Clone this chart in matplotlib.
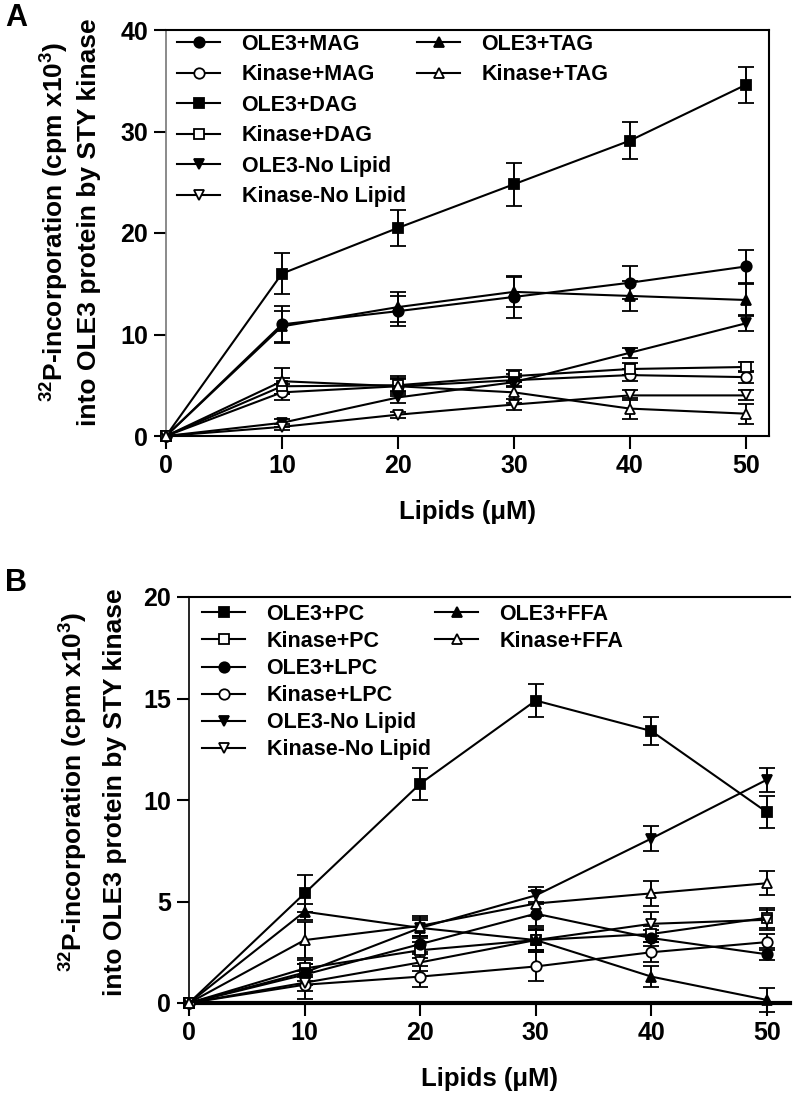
import matplotlib
matplotlib.use('Agg')
import matplotlib.pyplot as plt
from matplotlib.lines import Line2D

plt.rcParams['font.family'] = ['Liberation Sans', 'DejaVu Sans']
plt.rcParams['font.weight'] = 'bold'
plt.rcParams['mathtext.fontset'] = 'custom'
plt.rcParams['mathtext.rm'] = 'Liberation Sans:bold'
plt.rcParams['mathtext.default'] = 'rm'

W, H = 797, 1100

lipid_conc = [0, 10, 20, 30, 40, 50]

# ---------------- Panel A data ----------------
a_labels = ["OLE3+MAG", "Kinase+MAG", "OLE3+DAG", "Kinase+DAG",
            "OLE3-No Lipid", "Kinase-No Lipid", "OLE3+TAG", "Kinase+TAG"]
a_ole3_mag = [0, 11.0, 12.3, 13.7, 15.1, 16.7]
a_kin_mag = [0, 4.3, 4.9, 5.5, 6.0, 5.8]
a_ole3_dag = [0, 16.0, 20.5, 24.8, 29.1, 34.6]
a_kin_dag = [0, 4.9, 5.0, 5.9, 6.6, 6.8]
a_ole3_nolip = [0, 1.3, 3.8, 5.3, 8.2, 11.1]
a_kin_nolip = [0, 0.9, 2.1, 3.1, 4.0, 4.0]
a_ole3_tag = [0, 10.8, 12.7, 14.2, 13.8, 13.4]
a_kin_tag = [0, 5.4, 4.9, 4.3, 2.7, 2.2]

a_err_ole3_mag = [0, 1.8, 1.5, 2.1, 1.6, 1.6]
a_err_kin_mag = [0, 0.8, 0.8, 0.6, 0.6, 0.6]
a_err_ole3_dag = [0, 2.0, 1.8, 2.1, 1.8, 1.8]
a_err_kin_dag = [0, 0.8, 0.6, 0.6, 0.6, 0.5]
a_err_ole3_nolip = [0, 0.4, 0.5, 0.5, 0.5, 0.8]
a_err_kin_nolip = [0, 0.3, 0.3, 0.5, 0.5, 0.5]
a_err_ole3_tag = [0, 1.5, 1.5, 1.5, 1.5, 1.6]
a_err_kin_tag = [0, 1.3, 1.0, 1.0, 1.0, 1.0]

# ---------------- Panel B data ----------------
b_labels = ["OLE3+PC", "Kinase+PC", "OLE3+LPC", "Kinase+LPC",
            "OLE3-No Lipid", "Kinase-No Lipid", "OLE3+FFA", "Kinase+FFA"]
b_ole3_pc = [0, 5.4, 10.8, 14.9, 13.4, 9.4]
b_kin_pc = [0, 1.7, 2.6, 3.1, 3.4, 4.2]
b_ole3_lpc = [0, 1.4, 2.9, 4.4, 3.2, 2.4]
b_kin_lpc = [0, 0.9, 1.3, 1.8, 2.5, 3.0]
b_ole3_nolip = [0, 1.5, 3.7, 5.3, 8.1, 11.0]
b_kin_nolip = [0, 1.0, 2.0, 3.1, 3.9, 4.1]
b_ole3_ffa = [0, 4.5, 3.7, 3.1, 1.3, 0.15]
b_kin_ffa = [0, 3.1, 3.8, 4.9, 5.4, 5.9]

b_err_ole3_pc = [0, 0.9, 0.8, 0.8, 0.7, 0.8]
b_err_kin_pc = [0, 0.4, 0.4, 0.6, 0.4, 0.5]
b_err_ole3_lpc = [0, 0.5, 0.4, 0.6, 0.4, 0.3]
b_err_kin_lpc = [0, 0.7, 0.5, 0.7, 0.5, 0.4]
b_err_ole3_nolip = [0, 0.4, 0.5, 0.4, 0.6, 0.6]
b_err_kin_nolip = [0, 0.4, 0.4, 0.5, 0.6, 0.5]
b_err_ole3_ffa = [0, 0.4, 0.4, 0.5, 0.5, 0.6]
b_err_kin_ffa = [0, 0.9, 0.5, 0.6, 0.6, 0.6]

# marker styles (marker, filled)
styles = [('o', True), ('o', False), ('s', True), ('s', False),
          ('v', True), ('v', False), ('^', True), ('^', False)]
b_styles = [('s', True), ('s', False), ('o', True), ('o', False),
            ('v', True), ('v', False), ('^', True), ('^', False)]

fig = plt.figure(figsize=(W / 100, H / 100), dpi=100)


def px_axes(l, r, t, b):
    return fig.add_axes([l / W, 1 - b / H, (r - l) / W, (b - t) / H])


def draw_series(ax, ys, errs, stys):
    for y, e, (m, filled) in zip(ys, errs, stys):
        ax.errorbar(lipid_conc, y, yerr=e, color='black', lw=1.5,
                    marker=m, ms=7.5, mfc='black' if filled else 'white',
                    mec='black', mew=1.3, ecolor='black', elinewidth=1.4,
                    capsize=6, capthick=1.4, clip_on=False, zorder=3)


def make_handle(m, filled):
    return Line2D([0], [0], color='black', lw=1.5, marker=m, ms=7.5,
                  mfc='black' if filled else 'white', mec='black', mew=1.3)


def add_legend(handles, labels, x_px, y_px, spacing):
    leg = fig.legend(handles, labels, loc='upper left',
                     bbox_to_anchor=(x_px / W, 1 - y_px / H),
                     bbox_transform=fig.transFigure, frameon=False,
                     prop={'size': 15.5, 'weight': 'bold'}, handlelength=2.0,
                     handletextpad=1.0, borderpad=0, borderaxespad=0,
                     labelspacing=spacing, numpoints=1)
    return leg


def style_axes(ax, ymax, ystep, left_color, bottom_lw):
    ax.set_xlim(0, 52)
    ax.set_ylim(0, ymax)
    ax.set_xticks([0, 10, 20, 30, 40, 50])
    ax.set_yticks(list(range(0, ymax + 1, ystep)))
    ax.tick_params(axis='both', direction='out', length=9, width=1.5,
                   labelsize=18, pad=4)
    for lab in ax.get_xticklabels() + ax.get_yticklabels():
        lab.set_fontweight('bold')
    ax.spines['left'].set_color(left_color)
    ax.spines['left'].set_linewidth(1.2)
    ax.spines['bottom'].set_linewidth(bottom_lw)
    ax.spines['top'].set_linewidth(1.5)
    ax.spines['right'].set_linewidth(1.5)
    ax.set_xlabel('Lipids (μM)', fontsize=18.5, fontweight='bold', labelpad=16)


# ---------------- Panel A ----------------
axA = px_axes(166, 769, 30, 436)
draw_series(axA,
            [a_ole3_mag, a_kin_mag, a_ole3_dag, a_kin_dag, a_ole3_nolip,
             a_kin_nolip, a_ole3_tag, a_kin_tag],
            [a_err_ole3_mag, a_err_kin_mag, a_err_ole3_dag, a_err_kin_dag,
             a_err_ole3_nolip, a_err_kin_nolip, a_err_ole3_tag, a_err_kin_tag],
            styles)
style_axes(axA, 40, 10, '#777777', 1.5)
hA = [make_handle(m, f) for m, f in styles]
add_legend(hA[:6], a_labels[:6], 177, 34, 0.44)
add_legend(hA[6:], a_labels[6:], 417, 34, 0.44)

# ---------------- Panel B ----------------
axB = px_axes(189, 790, 597, 1003)
draw_series(axB,
            [b_ole3_pc, b_kin_pc, b_ole3_lpc, b_kin_lpc, b_ole3_nolip,
             b_kin_nolip, b_ole3_ffa, b_kin_ffa],
            [b_err_ole3_pc, b_err_kin_pc, b_err_ole3_lpc, b_err_kin_lpc,
             b_err_ole3_nolip, b_err_kin_nolip, b_err_ole3_ffa, b_err_kin_ffa],
            b_styles)
style_axes(axB, 20, 5, 'black', 3.0)
axB.spines['right'].set_visible(False)
hB = [make_handle(m, f) for m, f in b_styles]
add_legend(hB[:6], b_labels[:6], 202, 604, 0.28)
add_legend(hB[6:], b_labels[6:], 435, 604, 0.28)

# ---------------- Y labels ----------------
line1 = '$^{32}$P-incorporation (cpm x10$^{3}$)'
line2 = 'into OLE3 protein by STY kinase'
for (x1, x2, yc) in [(55, 89, 222), (74, 115, 792)]:
    fig.text(x1 / W, 1 - yc / H, line1, rotation=90, ha='center', va='center',
             fontsize=19, fontweight='bold')
    fig.text(x2 / W, 1 - yc / H, line2, rotation=90, ha='center', va='center',
             fontsize=19, fontweight='bold')

fig.text(5 / W, 1 - 3 / H, 'A', ha='left', va='top', fontsize=22, fontweight='bold')
fig.text(5 / W, 1 - 568 / H, 'B', ha='left', va='top', fontsize=22, fontweight='bold')

fig.savefig('out.png', dpi=100)
